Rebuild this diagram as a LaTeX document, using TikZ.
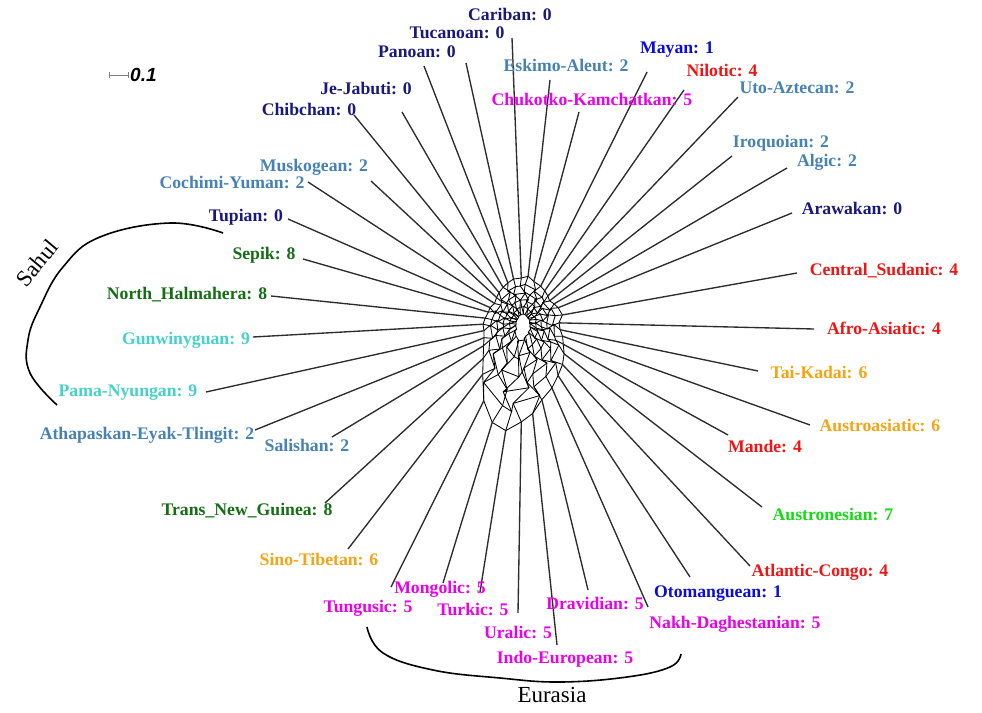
\documentclass[tikz,border=0pt]{standalone}
\usepackage{fontspec}
\setmainfont{Liberation Serif}
\newfontfamily\scalefont{Liberation Sans}
\usetikzlibrary{calc}
\definecolor{cnavy}{RGB}{25,25,125}
\definecolor{csteel}{RGB}{70,130,180}
\definecolor{cblue}{RGB}{10,10,225}
\definecolor{cred}{RGB}{240,20,20}
\definecolor{cmag}{RGB}{235,0,235}
\definecolor{cdgreen}{RGB}{20,110,20}
\definecolor{cturq}{RGB}{70,210,200}
\definecolor{corange}{RGB}{245,165,20}
\definecolor{cgreen}{RGB}{20,220,20}
\definecolor{cline}{RGB}{45,45,45}
\tikzset{
  lab/.style={inner sep=0pt, font=\bfseries\fontsize{17.7}{20}\selectfont},
  pend/.style={draw=cline, line width=1.35pt},
  web/.style={draw=black, line width=0.85pt, line join=round},
  arcline/.style={draw=black, line width=1.6pt},
  group/.style={inner sep=0pt, font=\fontsize{23}{26}\selectfont}
}
\begin{document}
\begin{tikzpicture}[x=1pt,y=-1pt]
\useasboundingbox (0,0) rectangle (982,712);
\fill[white] (0,0) rectangle (982,712);
\coordinate (c) at (523,322);
% leaf ends: index/x/y/r
\foreach \i/\x/\y/\r in {
 1/512/38/44, 2/550/80/46, 3/579/112/42, 4/647/72/40, 5/684/90/38,
 6/738/97/36, 7/732/156/34, 8/787/168/36, 9/792/213/38, 10/797/273/40,
 11/814/329/36, 12/758/371/38, 13/810/425/42, 14/728/435/46, 15/762/507/52,
 16/750/566/58, 17/690/577/64, 18/648/607/72, 19/588/590/80, 20/557/645/92,
 21/518/613/100, 22/480/592/110, 23/443/583/105, 24/391/587/88, 25/348/549/66,
 26/325/503/54, 27/332/437/46, 28/255/430/42, 29/206/392/40, 30/253/337/40,
 31/271/296/38, 32/303/259/36, 33/288/219/36, 34/308/182/34, 35/371/181/36,
 36/354/115/38, 37/402/112/40, 38/424/66/42, 39/466/63/44}{
  \coordinate (e\i) at (\x,\y);
  \coordinate (a\i) at ($(c)!\r pt!(e\i)$);
  \foreach \k/\f in {1/0.82,2/0.66,3/0.5,4/0.34,5/0.18}{
    \pgfmathsetmacro\rr{\f*\r}
    \pgfmathsetmacro\jit{(-1)^\k*7*sin(\i*137+\k*61)}
    \coordinate (r\k-\i) at ($(c)!\rr pt!\jit:(e\i)$);
  }
}
% central splits web
\draw[web] (a1) foreach \i in {2,...,39}{ -- (a\i)} -- cycle;
\foreach \k in {1,...,5}{
  \draw[web] (r\k-1) foreach \i in {2,...,39}{ -- (r\k-\i)} -- cycle;
}
\foreach \i in {1,...,39}{
  \draw[web] (a\i) -- (r1-\i) -- (r2-\i) -- (r3-\i) -- (r4-\i) -- (r5-\i);
}
% pendant edges
\foreach \i in {1,...,39}{
  \draw[pend] (e\i) -- (a\i);
}
% labels
\node[lab, text=cnavy] (cariban) at (510,14) {Cariban: 0};
\node[lab, text=cnavy] (tucanoan) at (457,33) {Tucanoan: 0};
\node[lab, text=cnavy] (panoan) at (417,52) {Panoan: 0};
\node[lab, text=csteel] (eskimo) at (566,65) {Eskimo-Aleut: 2};
\node[lab, text=cblue] (mayan) at (677,50) {Mayan: 1};
\node[lab, text=cred] (nilotic) at (722,70) {Nilotic: 4};
\node[lab, text=cmag] (chukotko) at (592,99) {Chukotko-Kamchatkan: 5};
\node[lab, text=csteel] (uto) at (797,88) {Uto-Aztecan: 2};
\node[lab, text=cnavy] (je) at (366,88) {Je-Jabuti: 0};
\node[lab, text=cnavy] (chibchan) at (309,109) {Chibchan: 0};
\node[lab, text=csteel] (iroquoian) at (781,143) {Iroquoian: 2};
\node[lab, text=csteel] (algic) at (827,162) {Algic: 2};
\node[lab, text=csteel] (muskogean) at (314,167) {Muskogean: 2};
\node[lab, text=csteel] (cochimi) at (232,182) {Cochimi-Yuman: 2};
\node[lab, text=cnavy] (tupian) at (246,217) {Tupian: 0};
\node[lab, text=cnavy] (arawakan) at (852,208) {Arawakan: 0};
\node[lab, text=cdgreen] (sepik) at (264,255) {Sepik: 8};
\node[lab, text=cred] (csudanic) at (884,271) {Central\_Sudanic: 4};
\node[lab, text=cdgreen] (nhalm) at (187,295) {North\_Halmahera: 8};
\node[lab, text=cred] (afro) at (884,328) {Afro-Asiatic: 4};
\node[lab, text=cturq] (gunw) at (186,340) {Gunwinyguan: 9};
\node[lab, text=corange] (taikadai) at (819,372) {Tai-Kadai: 6};
\node[lab, text=cturq] (pama) at (128,393) {Pama-Nyungan: 9};
\node[lab, text=csteel] (athap) at (147,435) {Athapaskan-Eyak-Tlingit: 2};
\node[lab, text=csteel] (salishan) at (307,445) {Salishan: 2};
\node[lab, text=corange] (austroas) at (880,425) {Austroasiatic: 6};
\node[lab, text=cred] (mande) at (765,446) {Mande: 4};
\node[lab, text=cgreen] (austron) at (833,514) {Austronesian: 7};
\node[lab, text=cdgreen] (tng) at (247,511) {Trans\_New\_Guinea: 8};
\node[lab, text=corange] (sinotib) at (319,559) {Sino-Tibetan: 6};
\node[lab, text=cred] (atlcongo) at (820,572) {Atlantic-Congo: 4};
\node[lab, text=cmag] (mongolic) at (440,589) {Mongolic: 5};
\node[lab, text=cblue] (otom) at (718,594) {Otomanguean: 1};
\node[lab, text=cmag] (tungusic) at (368,608) {Tungusic: 5};
\node[lab, text=cmag] (turkic) at (473,609) {Turkic: 5};
\node[lab, text=cmag] (dravidian) at (595,603) {Dravidian: 5};
\node[lab, text=cmag] (nakh) at (735,624) {Nakh-Daghestanian: 5};
\node[lab, text=cmag] (uralic) at (518,632) {Uralic: 5};
\node[lab, text=cmag] (indoeur) at (565,659) {Indo-European: 5};
% group arcs
\draw[arcline] plot[smooth, tension=0.7] coordinates {(223,233) (170,223) (100,237) (63,267) (40,307) (28,340) (30,373) (57,405)};
\node[group, rotate=50] (sahul) at (37,263) {Sahul};
\draw[arcline] plot[smooth, tension=0.7] coordinates {(367,627) (383,653) (433,670) (500,678) (560,682) (627,677) (670,667) (681,654)};
\node[group] (eurasia) at (552,695) {Eurasia};
% scale bar
\coordinate (sb1) at (109,75);
\coordinate (sb2) at (128,75);
\draw[draw=gray, line width=1pt] (sb1) -- (sb2);
\draw[draw=gray, line width=1pt] ($(sb1)+(0,-3)$) -- ($(sb1)+(0,3)$);
\draw[draw=gray, line width=1pt] ($(sb2)+(0,-3)$) -- ($(sb2)+(0,3)$);
\node[anchor=west, inner sep=0pt, font=\scalefont\bfseries\itshape\fontsize{19}{22}\selectfont] (sblab) at (130,75) {0.1};
\end{tikzpicture}
\end{document}
